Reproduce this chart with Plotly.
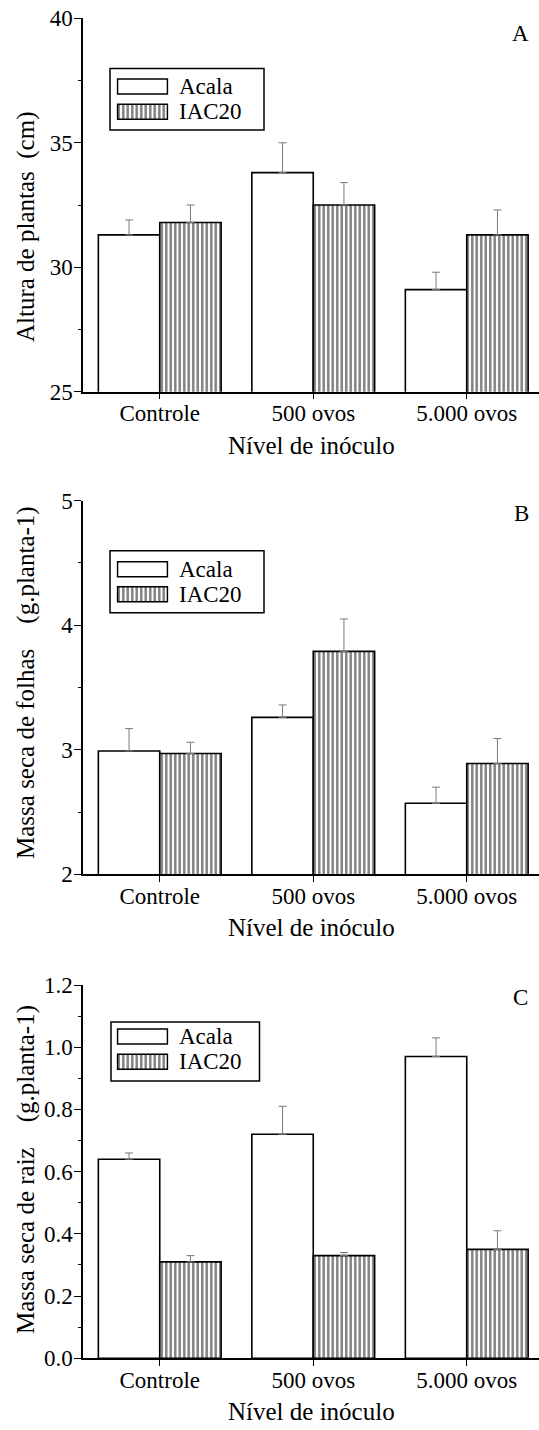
import plotly.graph_objects as go

W, H = 539, 1430

categories = ["Controle", "500 ovos", "5.000 ovos"]
series_names = ["Acala", "IAC20"]

# Panel A - Altura de plantas (cm)
a_acala = [31.3, 33.8, 29.1]
a_acala_err = [0.6, 1.2, 0.7]
a_iac = [31.8, 32.5, 31.3]
a_iac_err = [0.7, 0.9, 1.0]

# Panel B - Massa seca de folhas (g.planta-1)
b_acala = [2.99, 3.26, 2.57]
b_acala_err = [0.18, 0.10, 0.13]
b_iac = [2.97, 3.79, 2.89]
b_iac_err = [0.09, 0.26, 0.20]

# Panel C - Massa seca de raiz (g.planta-1)
c_acala = [0.64, 0.72, 0.97]
c_acala_err = [0.02, 0.09, 0.06]
c_iac = [0.31, 0.33, 0.35]
c_iac_err = [0.02, 0.01, 0.06]

panel_letters = ["A", "B", "C"]
y_titles = [
    "Altura de plantas\u00a0\u00a0(cm)",
    "Massa seca de folhas\u00a0\u00a0\u00a0\u00a0(g.planta-1)",
    "Massa seca de raiz\u00a0\u00a0\u00a0\u00a0(g.planta-1)",
]
x_title = "Nível de inóculo"
y_ranges = [[25, 40], [2, 5], [0, 1.2]]
y_dticks = [5, 1, 0.2]
y_minor = [2.5, 0.5, 0.1]
y_formats = ["d", "d", ".1f"]

FONT = "Liberation Serif, DejaVu Serif, Times New Roman, serif"
TICK_SIZE = 23
TITLE_SIZE = 25


def fx(px):
    return px / W


def fy(py):
    return 1 - py / H


panel_px = [(18.3, 391.7), (500.7, 874.3), (985.0, 1358.3)]
ytitle_center = [227, 683, 1170]
xtitle_center = [445, 927, 1411]
letter_pos = [(520, 33), (521, 513), (520, 997)]
legend_box = [(110, 68.5, 264, 130), (110, 550.7, 264, 612.7), (111, 1022, 259.5, 1081)]
legend_sw_centers = [(86.5, 111.8), (569.2, 594.2), (1036.5, 1061.7)]

X_LEFT = 83
CAT_STEP = 153.5
x_range_right = -0.5 + (W - X_LEFT) / CAT_STEP

pattern = dict(shape="|", fgcolor="black", bgcolor="white", size=4.5, solidity=0.55)
line = dict(color="black", width=1.6)
err_style = dict(type="data", symmetric=False, color="#7a7a7a", thickness=1, width=4)

data = [
    (a_acala, a_acala_err, a_iac, a_iac_err),
    (b_acala, b_acala_err, b_iac, b_iac_err),
    (c_acala, c_acala_err, c_iac, c_iac_err),
]

fig = go.Figure()
layout = dict(
    width=W, height=H,
    margin=dict(l=0, r=0, t=0, b=0, pad=0, autoexpand=False),
    paper_bgcolor="white", plot_bgcolor="white",
    showlegend=False, barmode="group", bargap=0.2, bargroupgap=0,
    font=dict(family=FONT, size=TICK_SIZE, color="black"),
)
annotations = []
shapes = []

for i in range(3):
    k = "" if i == 0 else str(i + 1)
    acala, acala_err, iac, iac_err = data[i]
    fig.add_trace(go.Bar(
        x=categories, y=acala, name=series_names[0],
        marker=dict(color="white", line=line),
        error_y=dict(array=acala_err, arrayminus=[0] * len(acala), **err_style),
        xaxis="x" + k, yaxis="y" + k,
    ))
    fig.add_trace(go.Bar(
        x=categories, y=iac, name=series_names[1],
        marker=dict(color="white", line=line, pattern=pattern),
        error_y=dict(array=iac_err, arrayminus=[0] * len(iac), **err_style),
        xaxis="x" + k, yaxis="y" + k,
    ))
    top, bot = panel_px[i]
    layout["xaxis" + k] = dict(
        domain=[fx(X_LEFT), 1], anchor="y" + k, type="category",
        range=[-0.5, x_range_right],
        showline=True, linecolor="black", linewidth=1.5,
        ticks="outside", ticklen=6, tickwidth=1, tickcolor="black",
        ticklabelstandoff=-6,
        tickfont=dict(family=FONT, size=TICK_SIZE),
        showgrid=False, zeroline=False, fixedrange=True, automargin=False,
    )
    layout["yaxis" + k] = dict(
        domain=[fy(bot), fy(top)], anchor="x" + k,
        range=y_ranges[i], dtick=y_dticks[i], tick0=0, tickformat=y_formats[i],
        showline=True, linecolor="black", linewidth=1.5,
        ticks="outside", ticklen=7, tickwidth=1, tickcolor="black",
        ticklabelstandoff=-3,
        minor=dict(dtick=y_minor[i], ticks="outside", ticklen=3, tickcolor="black", tickwidth=1),
        tickfont=dict(family=FONT, size=TICK_SIZE),
        showgrid=False, zeroline=False, fixedrange=True, automargin=False,
    )
    annotations.append(dict(
        text=y_titles[i], xref="paper", yref="paper",
        x=fx(26), y=fy(ytitle_center[i]), textangle=-90,
        showarrow=False, xanchor="center", yanchor="middle",
        font=dict(family=FONT, size=TITLE_SIZE),
    ))
    annotations.append(dict(
        text=x_title, xref="paper", yref="paper",
        x=fx(X_LEFT + (W - X_LEFT) / 2), y=fy(xtitle_center[i]),
        showarrow=False, xanchor="center", yanchor="middle",
        font=dict(family=FONT, size=TITLE_SIZE),
    ))
    lx, ly = letter_pos[i]
    annotations.append(dict(
        text=panel_letters[i], xref="paper", yref="paper",
        x=fx(lx), y=fy(ly), showarrow=False, xanchor="center", yanchor="middle",
        font=dict(family=FONT, size=TICK_SIZE),
    ))
    bx0, by0, bx1, by1 = legend_box[i]
    shapes.append(dict(type="rect", xref="paper", yref="paper",
                       x0=fx(bx0), x1=fx(bx1), y0=fy(by1), y1=fy(by0),
                       line=dict(color="black", width=1.5), fillcolor="rgba(0,0,0,0)"))
    c1, c2 = legend_sw_centers[i]
    step = c2 - c1
    lk = str(i + 4)
    sw_x0, sw_x1 = 117.5, 167.5
    layout["xaxis" + lk] = dict(domain=[fx(sw_x0 - 1), fx(sw_x1 + 1)], anchor="y" + lk,
                                range=[-0.02, 1.02], visible=False, fixedrange=True)
    layout["yaxis" + lk] = dict(domain=[fy(c2 + step / 2), fy(c1 - step / 2)], anchor="x" + lk,
                                range=[-0.5, 1.5], visible=False, fixedrange=True)
    fig.add_trace(go.Bar(
        y=[1], x=[1], base=0, orientation="h", width=15 / step,
        marker=dict(color="white", line=line), name=series_names[0],
        xaxis="x" + lk, yaxis="y" + lk, hoverinfo="skip",
    ))
    fig.add_trace(go.Bar(
        y=[0], x=[1], base=0, orientation="h", width=15 / step,
        marker=dict(color="white", line=line, pattern=pattern), name=series_names[1],
        xaxis="x" + lk, yaxis="y" + lk, hoverinfo="skip",
    ))
    for name, cy in zip(series_names, (c1, c2)):
        annotations.append(dict(
            text=name, xref="paper", yref="paper", x=fx(177), y=fy(cy),
            showarrow=False, xanchor="left", yanchor="middle",
            font=dict(family=FONT, size=TICK_SIZE),
        ))

layout["annotations"] = annotations
layout["shapes"] = shapes
fig.update_layout(**layout)
fig.write_html(
    "out.html",
    config={"responsive": False, "displayModeBar": False},
    post_script=(
        "document.documentElement.style.margin='0';"
        "document.body.style.margin='0';"
        "document.body.style.padding='0';"
        "document.documentElement.style.overflow='hidden';"
        "document.body.style.overflow='hidden';"
    ),
)
